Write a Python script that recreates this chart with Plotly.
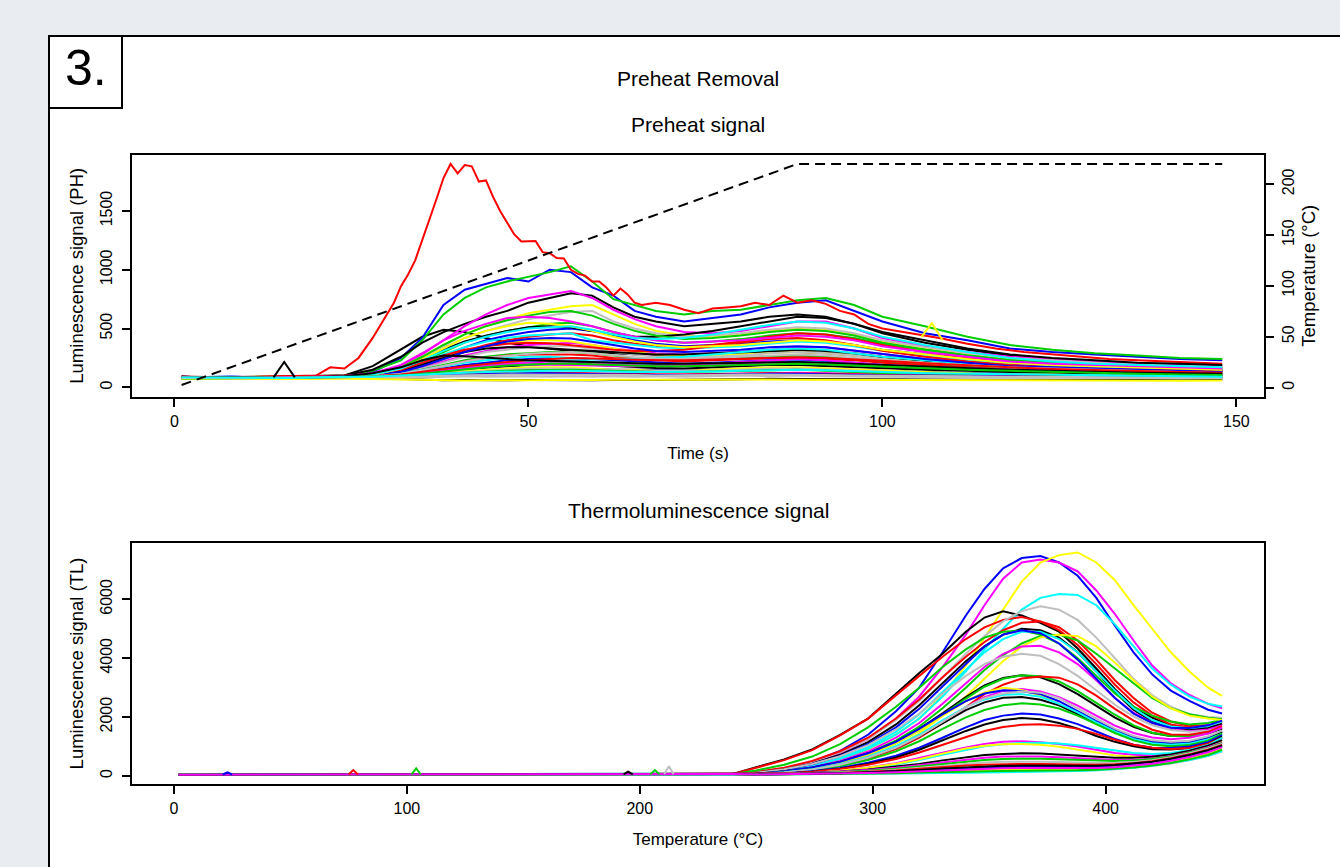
import plotly.graph_objects as go

# ---------------- colours (R default palette) ----------------
BLACK = "#000000"; RED = "#FF0000"; GREEN = "#00CD00"; BLUE = "#0000FF"
CYAN = "#00FFFF"; MAGENTA = "#FF00FF"; YELLOW = "#FFFF00"; GRAY = "#BEBEBE"

# ---------------- Preheat signal data ----------------
PH_T = [1, 8, 16, 24, 28, 32, 35, 38, 41, 44, 47, 50, 53, 56, 59, 62, 65, 68, 72, 76,
        80, 84, 88, 92, 96, 100, 106, 112, 118, 124, 130, 136, 142, 148]

PH_CURVES = [
    [80, 85, 80, 85, 85, 95, 105, 115, 130, 140, 150, 155, 160, 160, 155, 150, 150, 145, 145, 150, 155, 160, 160, 155, 150, 140, 130, 120, 115, 110, 105, 100, 95, 95],
    [85, 80, 85, 80, 90, 90, 95, 100, 105, 110, 115, 120, 120, 120, 115, 115, 115, 110, 110, 115, 120, 125, 125, 120, 115, 110, 105, 100, 95, 95, 90, 90, 85, 85],
    [90, 80, 85, 100, 180, 320, 430, 490, 470, 420, 380, 350, 330, 310, 300, 290, 280, 270, 270, 280, 290, 300, 300, 290, 270, 250, 220, 200, 180, 170, 160, 150, 140, 140],
    [90, 80, 85, 95, 130, 250, 420, 700, 830, 880, 930, 900, 1000, 980, 850, 780, 650, 600, 560, 590, 620, 680, 720, 740, 650, 560, 460, 400, 330, 300, 280, 260, 240, 230],
    [80, 85, 90, 100, 140, 230, 400, 620, 760, 850, 900, 940, 980, 1030, 900, 750, 700, 650, 620, 650, 660, 700, 740, 760, 700, 600, 520, 430, 360, 320, 290, 270, 250, 240],
    [85, 80, 90, 100, 150, 260, 380, 470, 540, 600, 650, 720, 760, 800, 780, 680, 600, 560, 520, 540, 560, 600, 620, 600, 540, 460, 380, 320, 270, 240, 220, 200, 190, 180],
    [80, 90, 85, 95, 120, 180, 280, 400, 520, 620, 700, 760, 790, 820, 760, 660, 580, 520, 470, 460, 480, 520, 560, 560, 500, 420, 350, 300, 260, 240, 220, 200, 190, 180],
    [70, 80, 75, 90, 110, 170, 260, 360, 450, 520, 580, 630, 660, 690, 700, 620, 540, 480, 440, 430, 450, 480, 500, 490, 450, 390, 330, 280, 240, 220, 200, 190, 180, 170],
    [80, 85, 80, 95, 120, 170, 250, 340, 420, 480, 530, 580, 610, 640, 650, 560, 500, 460, 430, 440, 460, 490, 510, 500, 460, 400, 340, 290, 250, 230, 210, 190, 180, 170],
    [80, 75, 80, 95, 110, 150, 220, 300, 380, 440, 480, 510, 540, 550, 520, 470, 430, 400, 380, 390, 410, 440, 460, 450, 420, 370, 320, 270, 230, 210, 190, 180, 170, 160],
    [85, 90, 80, 90, 105, 140, 200, 270, 340, 400, 440, 470, 490, 500, 480, 440, 400, 370, 350, 360, 370, 390, 400, 390, 360, 320, 280, 240, 210, 190, 180, 170, 160, 150],
    [80, 85, 90, 100, 110, 140, 190, 250, 310, 360, 400, 430, 450, 460, 440, 400, 370, 350, 340, 360, 390, 430, 460, 450, 410, 360, 300, 250, 220, 200, 180, 170, 160, 150],
    [90, 85, 80, 95, 110, 150, 210, 280, 340, 390, 420, 440, 450, 460, 400, 380, 360, 340, 330, 340, 350, 370, 390, 380, 350, 310, 270, 230, 200, 180, 170, 160, 150, 140],
    [80, 80, 85, 90, 100, 130, 170, 220, 270, 310, 340, 360, 370, 380, 360, 330, 310, 290, 280, 290, 300, 320, 340, 340, 310, 280, 240, 210, 190, 170, 160, 150, 140, 140],
    [70, 75, 80, 85, 95, 130, 180, 240, 300, 350, 380, 400, 400, 390, 360, 330, 300, 280, 270, 270, 280, 290, 300, 290, 270, 240, 210, 190, 170, 160, 150, 140, 130, 130],
    [80, 80, 85, 90, 100, 120, 160, 210, 260, 300, 320, 340, 350, 350, 330, 300, 280, 260, 250, 260, 270, 290, 300, 290, 270, 240, 210, 190, 170, 160, 150, 140, 130, 130],
    [85, 80, 90, 95, 110, 140, 190, 250, 300, 330, 340, 340, 330, 320, 310, 300, 290, 280, 280, 290, 300, 310, 320, 310, 290, 260, 230, 200, 180, 170, 160, 150, 140, 140],
    [75, 80, 80, 90, 100, 120, 150, 190, 230, 260, 280, 290, 300, 300, 290, 270, 250, 240, 230, 240, 250, 260, 270, 260, 240, 220, 200, 180, 160, 150, 140, 130, 130, 120],
    [90, 85, 90, 95, 105, 120, 150, 180, 220, 250, 270, 280, 280, 280, 270, 250, 240, 230, 220, 230, 240, 250, 250, 240, 230, 210, 190, 170, 150, 140, 130, 120, 120, 110],
    [80, 85, 80, 90, 95, 110, 130, 160, 190, 210, 230, 240, 250, 250, 240, 230, 220, 210, 200, 210, 220, 230, 230, 220, 210, 190, 170, 160, 150, 140, 130, 120, 110, 110],
    [85, 80, 85, 90, 100, 110, 130, 150, 170, 190, 210, 220, 230, 230, 220, 210, 200, 190, 190, 200, 210, 220, 220, 210, 200, 180, 160, 150, 140, 130, 120, 110, 110, 100],
    [75, 80, 85, 90, 95, 105, 120, 140, 160, 180, 200, 210, 220, 220, 210, 200, 190, 180, 180, 190, 200, 210, 210, 200, 190, 170, 160, 150, 140, 130, 120, 110, 110, 100],
    [80, 75, 80, 85, 90, 100, 115, 135, 155, 170, 180, 190, 200, 200, 190, 180, 170, 165, 160, 170, 180, 190, 190, 180, 170, 160, 150, 140, 130, 120, 110, 110, 100, 100],
    [70, 75, 70, 80, 85, 95, 110, 125, 140, 150, 160, 170, 170, 170, 160, 150, 150, 140, 140, 150, 160, 170, 170, 160, 150, 140, 130, 120, 110, 110, 100, 100, 90, 90],
    [75, 80, 80, 85, 90, 95, 110, 120, 130, 140, 150, 160, 160, 160, 150, 150, 140, 140, 140, 140, 150, 160, 160, 150, 140, 130, 120, 110, 110, 100, 100, 90, 90, 90],
    [80, 75, 80, 85, 90, 95, 105, 115, 125, 135, 140, 145, 150, 150, 145, 140, 135, 130, 130, 135, 140, 150, 150, 140, 130, 120, 115, 110, 105, 100, 95, 90, 90, 90],
    [90, 80, 85, 90, 95, 100, 105, 110, 120, 125, 130, 130, 125, 120, 120, 115, 115, 110, 110, 110, 115, 120, 120, 115, 110, 105, 100, 100, 95, 90, 90, 85, 85, 80],
    [85, 90, 80, 85, 90, 95, 100, 105, 110, 115, 120, 120, 120, 115, 115, 110, 110, 105, 105, 110, 110, 115, 115, 110, 105, 100, 100, 95, 90, 90, 85, 85, 80, 80],
    [80, 75, 80, 85, 80, 70, 65, 60, 62, 58, 60, 62, 60, 58, 60, 62, 65, 63, 65, 68, 70, 72, 70, 68, 70, 68, 66, 65, 64, 62, 63, 62, 60, 62],
    [75, 80, 75, 80, 85, 80, 85, 90, 95, 90, 95, 95, 90, 95, 90, 95, 90, 95, 90, 95, 100, 95, 100, 95, 90, 90, 85, 85, 80, 85, 80, 80, 75, 80],
    [70, 72, 70, 72, 70, 65, 62, 60, 58, 60, 58, 60, 62, 60, 62, 64, 62, 65, 64, 66, 68, 66, 65, 64, 63, 62, 60, 60, 58, 60, 58, 58, 57, 58],
    [80, 85, 80, 90, 95, 110, 125, 145, 165, 180, 190, 195, 195, 190, 185, 180, 180, 185, 190, 200, 215, 230, 240, 230, 210, 190, 170, 160, 150, 140, 130, 125, 120, 115],
    [85, 80, 85, 90, 100, 120, 150, 180, 210, 230, 250, 260, 260, 250, 240, 240, 240, 250, 260, 280, 300, 320, 330, 320, 290, 260, 230, 200, 180, 170, 160, 150, 140, 140],
    [90, 80, 85, 95, 120, 170, 240, 320, 390, 440, 480, 510, 520, 510, 480, 450, 430, 430, 450, 480, 520, 560, 600, 590, 540, 470, 400, 330, 280, 250, 230, 210, 200, 190],
    [85, 80, 90, 95, 110, 150, 210, 270, 320, 350, 370, 380, 375, 360, 340, 320, 310, 310, 320, 350, 380, 410, 420, 400, 360, 310, 260, 220, 190, 170, 160, 150, 140, 135],
    [80, 85, 80, 90, 115, 170, 260, 360, 450, 520, 570, 610, 640, 650, 610, 540, 480, 440, 410, 420, 440, 470, 490, 480, 440, 380, 320, 270, 230, 210, 190, 180, 170, 160],
    [90, 80, 85, 90, 100, 130, 180, 240, 300, 350, 390, 410, 420, 415, 390, 360, 330, 310, 300, 310, 320, 340, 350, 340, 310, 280, 240, 210, 180, 170, 160, 150, 140, 130],
    [70, 75, 80, 85, 105, 160, 240, 330, 420, 480, 520, 550, 540, 520, 480, 430, 390, 360, 340, 350, 360, 380, 400, 390, 360, 320, 280, 240, 210, 190, 180, 170, 160, 150],
    [85, 80, 85, 95, 120, 190, 290, 400, 480, 540, 590, 600, 590, 560, 520, 470, 430, 400, 380, 390, 400, 420, 440, 430, 400, 350, 300, 260, 220, 200, 190, 180, 170, 160],
    [80, 75, 80, 85, 95, 115, 145, 185, 220, 250, 270, 285, 295, 300, 290, 270, 255, 245, 240, 250, 260, 270, 280, 270, 250, 230, 210, 190, 170, 160, 150, 140, 130, 120],
    [85, 90, 80, 90, 110, 160, 230, 310, 380, 430, 470, 500, 510, 520, 490, 450, 420, 410, 420, 450, 490, 530, 560, 550, 500, 430, 360, 300, 250, 220, 200, 190, 180, 170],
    [90, 85, 80, 90, 95, 110, 130, 155, 180, 200, 215, 230, 240, 250, 245, 240, 235, 230, 230, 235, 240, 250, 255, 250, 240, 225, 205, 185, 170, 155, 145, 135, 130, 125],
    [80, 85, 80, 95, 120, 170, 230, 270, 265, 250, 240, 230, 225, 220, 215, 210, 205, 200, 200, 205, 210, 215, 215, 210, 200, 190, 175, 160, 150, 140, 130, 125, 120, 115],
    [75, 80, 80, 85, 90, 100, 115, 135, 155, 170, 185, 195, 200, 200, 195, 190, 185, 180, 180, 185, 190, 195, 200, 195, 185, 175, 160, 150, 140, 130, 120, 115, 110, 105],
    [80, 80, 85, 85, 90, 90, 95, 100, 100, 105, 110, 110, 110, 110, 105, 105, 105, 100, 100, 105, 110, 110, 110, 105, 100, 100, 95, 95, 90, 90, 85, 85, 80, 80],
    [85, 85, 80, 90, 90, 100, 110, 120, 125, 130, 135, 140, 140, 140, 135, 135, 130, 130, 130, 135, 140, 145, 150, 145, 140, 130, 120, 115, 110, 105, 100, 95, 95, 90],
]
PH_COLORS = [BLUE, MAGENTA, BLACK, BLUE, GREEN, BLACK, MAGENTA, YELLOW, GRAY, GREEN,
             BLUE, RED, CYAN, MAGENTA, YELLOW, GRAY, BLACK, GREEN, RED, BLUE,
             CYAN, MAGENTA, BLACK, YELLOW, GRAY, GREEN, RED, BLUE, BLACK, GRAY,
             YELLOW, MAGENTA, CYAN, BLACK, RED, GREEN, BLUE, YELLOW, MAGENTA, GRAY,
             CYAN, RED, BLACK, GREEN, GRAY, CYAN]

# the strongest preheat curve (red), read at finer time steps
PH_RED_T = [1, 5, 10, 15, 20, 22, 24, 26, 28, 30, 31, 32, 33, 34, 35, 36, 37, 38, 39, 40,
            41, 42, 43, 44, 45, 46, 47, 48, 49, 50, 51, 52, 53, 54, 55, 56, 57, 58, 59, 60,
            61, 62, 63, 64, 65, 66, 67, 68, 70, 72, 74, 76, 78, 80, 82, 84, 86, 88, 90, 92,
            94, 96, 98, 100, 104, 108, 112, 116, 120, 124, 128, 132, 136, 140, 144, 148]
PH_RED_V = [90, 80, 85, 90, 100, 170, 160, 250, 420, 620, 720, 860, 960, 1080, 1250, 1420, 1600, 1780, 1900, 1820,
            1890, 1880, 1750, 1760, 1620, 1500, 1400, 1300, 1240, 1240, 1245, 1150, 1140, 1100, 1095, 1000, 965, 950, 900, 900,
            850, 780, 840, 790, 720, 700, 710, 720, 700, 660, 630, 670, 680, 690, 720, 700, 780, 720, 740, 710,
            650, 620, 540, 500, 460, 420, 370, 330, 300, 280, 260, 240, 230, 220, 210, 200]

# short single-channel spikes
PH_SPIKE_T = [[14, 15.5, 17], [105.5, 107, 108.5]]
PH_SPIKE_V = [[85, 215, 85], [430, 545, 400]]
PH_SPIKE_COLORS = [BLACK, YELLOW]

# heating profile
HEAT_T = [1, 88, 148]
HEAT_TEMP = [2.5, 220, 220]

# ---------------- TL signal data ----------------
TL_BASE_T = [2, 40, 80, 120, 160, 200, 230, 240]
TL_BASE_V = [45, 50, 48, 52, 50, 55, 60, 65]

TL_T = [250, 262, 274, 286, 298, 310, 320, 330, 340, 348, 356, 364, 372, 380, 388, 396,
        404, 412, 420, 428, 436, 444, 450]

TL_CURVES = [
    [120, 250, 480, 850, 1400, 2200, 3000, 4200, 5450, 6350, 7050, 7400, 7470, 7250, 6800, 6050, 5100, 4200, 3450, 2900, 2550, 2250, 2120],
    [110, 230, 440, 780, 1250, 1950, 2700, 3700, 4800, 5800, 6700, 7250, 7350, 7250, 6950, 6300, 5500, 4600, 3750, 3150, 2750, 2450, 2300],
    [80, 160, 320, 560, 900, 1400, 1950, 2750, 3750, 4700, 5650, 6600, 7250, 7500, 7590, 7250, 6650, 5800, 5000, 4200, 3550, 3000, 2720],
    [80, 170, 330, 570, 920, 1400, 1950, 2700, 3550, 4300, 5000, 5650, 6050, 6180, 6150, 5800, 5150, 4400, 3650, 3100, 2700, 2450, 2360],
    [300, 560, 900, 1400, 1950, 2800, 3500, 4150, 4900, 5380, 5590, 5450, 5200, 4900, 4330, 3650, 2950, 2350, 1980, 1700, 1600, 1680, 1770],
    [280, 540, 880, 1380, 1950, 2750, 3400, 4050, 4650, 5050, 5300, 5400, 5250, 4950, 4450, 3800, 3100, 2500, 2050, 1750, 1650, 1700, 1850],
    [130, 260, 480, 800, 1250, 1900, 2550, 3350, 4150, 4750, 5250, 5600, 5766, 5650, 5300, 4700, 4000, 3300, 2750, 2350, 2100, 2000, 1980],
    [140, 280, 510, 840, 1300, 1950, 2600, 3350, 4050, 4550, 4950, 5200, 5250, 5050, 4600, 3950, 3250, 2650, 2150, 1850, 1700, 1720, 1850],
    [110, 230, 420, 720, 1150, 1750, 2400, 3150, 3900, 4400, 4800, 5000, 4950, 4700, 4200, 3550, 2850, 2250, 1850, 1620, 1550, 1620, 1760],
    [190, 380, 660, 1080, 1650, 2350, 3000, 3700, 4300, 4700, 4900, 4940, 4800, 4500, 4000, 3400, 2800, 2350, 2050, 1850, 1750, 1800, 1900],
    [70, 150, 280, 480, 780, 1200, 1680, 2300, 3000, 3600, 4100, 4500, 4750, 4800, 4600, 4150, 3650, 3150, 2650, 2300, 2100, 1980, 1930],
    [55, 110, 210, 370, 640, 1000, 1450, 2050, 2700, 3300, 3900, 4400, 4700, 4800, 4750, 4400, 3850, 3250, 2700, 2300, 2050, 1950, 1900],
    [75, 160, 300, 510, 830, 1300, 1800, 2450, 3150, 3700, 4150, 4400, 4420, 4200, 3800, 3250, 2650, 2150, 1800, 1600, 1520, 1580, 1720],
    [85, 190, 360, 610, 980, 1500, 2100, 2850, 3600, 4200, 4650, 4900, 4900, 4650, 4200, 3550, 2900, 2300, 1900, 1680, 1620, 1700, 1850],
    [95, 210, 400, 680, 1080, 1650, 2280, 3050, 3800, 4400, 4800, 4950, 4850, 4500, 3950, 3300, 2650, 2120, 1800, 1640, 1630, 1720, 1880],
    [110, 230, 410, 670, 1050, 1580, 2120, 2800, 3400, 3800, 4050, 4150, 4080, 3800, 3400, 2900, 2420, 2020, 1720, 1560, 1500, 1540, 1640],
    [75, 160, 290, 480, 770, 1160, 1600, 2130, 2680, 3080, 3330, 3420, 3350, 3120, 2780, 2380, 1980, 1670, 1460, 1360, 1360, 1450, 1600],
    [65, 140, 260, 440, 720, 1110, 1550, 2080, 2630, 3030, 3300, 3420, 3390, 3210, 2880, 2480, 2080, 1720, 1470, 1360, 1360, 1450, 1640],
    [55, 115, 210, 360, 590, 910, 1300, 1790, 2330, 2780, 3100, 3310, 3380, 3340, 3110, 2730, 2280, 1880, 1570, 1410, 1400, 1500, 1690],
    [65, 135, 240, 400, 650, 960, 1350, 1840, 2330, 2680, 2890, 2950, 2870, 2680, 2390, 2050, 1710, 1460, 1310, 1250, 1300, 1440, 1640],
    [65, 145, 270, 460, 730, 1110, 1550, 2040, 2540, 2840, 3000, 2920, 2730, 2440, 2100, 1760, 1470, 1270, 1160, 1110, 1150, 1290, 1480],
    [75, 155, 290, 480, 770, 1160, 1600, 2090, 2540, 2800, 2910, 2880, 2780, 2540, 2200, 1860, 1560, 1310, 1160, 1110, 1150, 1300, 1540],
    [60, 125, 230, 380, 620, 960, 1350, 1790, 2240, 2500, 2660, 2680, 2590, 2400, 2110, 1810, 1510, 1260, 1110, 1060, 1100, 1250, 1490],
    [60, 125, 230, 400, 650, 1010, 1400, 1890, 2340, 2600, 2760, 2780, 2690, 2450, 2160, 1820, 1510, 1260, 1110, 1060, 1100, 1250, 1440],
    [55, 105, 190, 330, 540, 840, 1180, 1600, 1990, 2240, 2400, 2470, 2430, 2290, 2050, 1760, 1460, 1210, 1060, 1010, 1050, 1200, 1440],
    [60, 115, 220, 380, 620, 960, 1350, 1840, 2330, 2640, 2800, 2870, 2830, 2640, 2300, 1960, 1610, 1360, 1210, 1160, 1200, 1350, 1540],
    [55, 85, 160, 275, 450, 690, 960, 1300, 1650, 1900, 2050, 2120, 2090, 1950, 1760, 1510, 1260, 1060, 960, 950, 1000, 1150, 1390],
    [55, 78, 145, 250, 410, 630, 890, 1210, 1530, 1750, 1900, 1970, 1930, 1800, 1610, 1360, 1160, 1010, 910, 900, 950, 1100, 1340],
    [55, 76, 145, 240, 385, 580, 800, 1060, 1340, 1530, 1660, 1740, 1760, 1710, 1600, 1430, 1230, 1060, 960, 920, 950, 1100, 1290],
    [50, 65, 105, 180, 290, 435, 600, 790, 970, 1090, 1160, 1180, 1150, 1090, 1000, 880, 780, 720, 700, 720, 800, 950, 1140],
    [50, 62, 95, 160, 260, 390, 540, 720, 890, 1010, 1080, 1120, 1130, 1100, 1040, 950, 850, 780, 750, 780, 880, 1050, 1290],
    [50, 65, 105, 175, 280, 415, 570, 760, 930, 1030, 1080, 1090, 1060, 990, 900, 800, 700, 650, 640, 680, 780, 950, 1150],
    [60, 80, 110, 150, 220, 310, 410, 530, 640, 710, 750, 770, 760, 730, 690, 650, 620, 620, 650, 730, 860, 1030, 1220],
    [58, 75, 100, 140, 200, 280, 370, 470, 560, 620, 660, 675, 665, 635, 600, 560, 540, 550, 590, 680, 810, 980, 1130],
    [55, 70, 92, 125, 175, 245, 325, 415, 495, 545, 580, 590, 585, 565, 540, 515, 505, 525, 575, 665, 795, 955, 1110],
    [55, 68, 86, 115, 155, 215, 280, 355, 420, 460, 485, 493, 487, 472, 455, 445, 450, 475, 535, 635, 775, 935, 1090],
    [54, 64, 80, 105, 140, 190, 245, 305, 355, 385, 403, 407, 403, 393, 385, 385, 400, 435, 505, 605, 735, 895, 1050],
    [52, 60, 72, 90, 118, 155, 195, 240, 275, 297, 307, 310, 308, 305, 307, 320, 345, 395, 465, 565, 695, 855, 1010],
    [50, 56, 64, 76, 95, 120, 145, 170, 190, 203, 210, 213, 215, 220, 230, 250, 285, 335, 405, 495, 615, 755, 910],
    [48, 52, 56, 62, 72, 84, 96, 108, 118, 126, 132, 138, 146, 156, 171, 194, 226, 271, 336, 426, 536, 676, 830],
    [48, 52, 55, 60, 68, 78, 88, 98, 108, 116, 124, 132, 142, 154, 171, 196, 231, 281, 346, 436, 546, 686, 850],
    [50, 55, 60, 68, 80, 97, 115, 135, 153, 165, 173, 177, 180, 185, 195, 215, 245, 290, 355, 445, 565, 715, 890],
    [52, 60, 73, 91, 120, 160, 205, 255, 300, 330, 347, 353, 350, 343, 340, 347, 370, 415, 485, 585, 715, 875, 1040],
    [50, 57, 66, 80, 101, 130, 163, 200, 233, 255, 267, 271, 269, 265, 265, 275, 300, 345, 415, 515, 645, 805, 980],
]
TL_COLORS = [BLUE, MAGENTA, YELLOW, CYAN, BLACK, RED, GRAY, RED, BLACK, GREEN,
             GREEN, YELLOW, MAGENTA, CYAN, BLUE, GRAY, BLACK, GREEN, RED, MAGENTA,
             YELLOW, BLUE, BLACK, CYAN, GREEN, GRAY, BLUE, BLACK, RED, MAGENTA,
             CYAN, YELLOW, BLACK, MAGENTA, GREEN, GRAY, RED, BLUE, YELLOW, GRAY,
             CYAN, GREEN, BLACK, MAGENTA]

TL_SPIKE_T = [[21, 23, 25], [75, 77, 79], [102, 104, 106], [193, 195, 197], [204.5, 206.5, 208.5], [210.5, 212.5, 214.5]]
TL_SPIKE_V = [[50, 120, 50], [50, 200, 50], [52, 260, 50], [55, 150, 55], [55, 200, 55], [55, 330, 55]]
TL_SPIKE_COLORS = [BLUE, RED, GREEN, BLACK, GREEN, GRAY]

# ---------------- layout helpers ----------------
W, H = 1340, 867
FONT = "Liberation Sans, Arial, Helvetica, sans-serif"
BG = "#E9EDF2"


def fx(px):
    return px / W


def fy(py):
    return 1 - py / H


fig = go.Figure()

LW = 2
# preheat curves
for vals, col in zip(PH_CURVES[:20], PH_COLORS[:20]):
    fig.add_trace(go.Scatter(x=PH_T, y=vals, mode="lines", line=dict(color=col, width=LW),
                             xaxis="x", yaxis="y", showlegend=False, hoverinfo="skip"))
fig.add_trace(go.Scatter(x=PH_RED_T, y=PH_RED_V, mode="lines", line=dict(color=RED, width=LW),
                         xaxis="x", yaxis="y", showlegend=False, hoverinfo="skip"))
for vals, col in zip(PH_CURVES[20:], PH_COLORS[20:]):
    fig.add_trace(go.Scatter(x=PH_T, y=vals, mode="lines", line=dict(color=col, width=LW),
                             xaxis="x", yaxis="y", showlegend=False, hoverinfo="skip"))
for ts, vs, col in zip(PH_SPIKE_T, PH_SPIKE_V, PH_SPIKE_COLORS):
    fig.add_trace(go.Scatter(x=ts, y=vs, mode="lines", line=dict(color=col, width=LW),
                             xaxis="x", yaxis="y", showlegend=False, hoverinfo="skip"))
# heating profile (right axis)
fig.add_trace(go.Scatter(x=HEAT_T, y=HEAT_TEMP, mode="lines",
                         line=dict(color=BLACK, width=2, dash="10px,6px"),
                         xaxis="x", yaxis="y3", showlegend=False, hoverinfo="skip"))

# TL curves
for vals, col in zip(TL_CURVES, TL_COLORS):
    fig.add_trace(go.Scatter(x=TL_BASE_T + TL_T, y=TL_BASE_V + vals, mode="lines",
                             line=dict(color=col, width=LW),
                             xaxis="x2", yaxis="y2", showlegend=False, hoverinfo="skip"))
for ts, vs, col in zip(TL_SPIKE_T, TL_SPIKE_V, TL_SPIKE_COLORS):
    fig.add_trace(go.Scatter(x=ts, y=vs, mode="lines", line=dict(color=col, width=LW),
                             xaxis="x2", yaxis="y2", showlegend=False, hoverinfo="skip"))

axis_common = dict(showline=True, linecolor="black", linewidth=2, mirror=True,
                   ticks="outside", ticklen=8, tickwidth=1.5, tickcolor="black",
                   showgrid=False, zeroline=False,
                   tickfont=dict(family=FONT, size=16, color="black"))
xtitle_font = dict(family=FONT, size=17, color="black")
ytitle_font = dict(family=FONT, size=18.5, color="black")

fig.update_layout(
    width=W, height=H,
    margin=dict(l=0, r=0, t=0, b=0),
    paper_bgcolor=BG,
    plot_bgcolor="white",
    showlegend=False,
    xaxis=dict(domain=[fx(132), fx(1264)], range=[-6, 153.9], anchor="y",
               tickvals=[0, 50, 100, 150], ticklabelstandoff=1,
               title=dict(text="Time (s)", font=xtitle_font, standoff=18),
               **axis_common),
    yaxis=dict(domain=[fy(396.5), fy(155)], range=[-78, 1976], anchor="x",
               tickvals=[0, 500, 1000, 1500], tickangle=-90, ticklabelstandoff=4,
               title=dict(text="Luminescence signal (PH)", font=ytitle_font, standoff=9),
               **axis_common),
    yaxis3=dict(overlaying="y", side="right", anchor="x", range=[-8.8, 228.8],
                tickvals=[0, 50, 100, 150, 200], tickangle=-90, ticklabelstandoff=1,
                title=dict(text="Temperature (°C)", font=ytitle_font, standoff=6),
                **axis_common),
    xaxis2=dict(domain=[fx(132), fx(1264)], range=[-18, 468], anchor="y2",
                tickvals=[0, 100, 200, 300, 400], ticklabelstandoff=1,
                title=dict(text="Temperature (°C)", font=xtitle_font, standoff=17),
                **axis_common),
    yaxis2=dict(domain=[fy(784), fy(543)], range=[-272, 7912], anchor="x2",
                tickvals=[0, 2000, 4000, 6000], tickangle=-90, ticklabelstandoff=4,
                title=dict(text="Luminescence signal (TL)", font=ytitle_font, standoff=9),
                **axis_common),
    shapes=[
        dict(type="rect", xref="paper", yref="paper", x0=fx(49), x1=1.2, y0=-0.2, y1=fy(36),
             line=dict(color="black", width=2), fillcolor="white", layer="below"),
        dict(type="rect", xref="paper", yref="paper", x0=fx(49), x1=fx(122), y0=fy(108), y1=fy(36),
             line=dict(color="black", width=2), fillcolor="white", layer="below"),
    ],
    annotations=[
        dict(text="3.", x=fx(86), y=fy(68), xref="paper", yref="paper", showarrow=False,
             xanchor="center", yanchor="middle", font=dict(family=FONT, size=50, color="black")),
        dict(text="Preheat Removal", x=fx(698), y=fy(78), xref="paper", yref="paper", showarrow=False,
             xanchor="center", yanchor="middle", font=dict(family=FONT, size=21, color="black")),
        dict(text="Preheat signal", x=fx(698), y=fy(124), xref="paper", yref="paper", showarrow=False,
             xanchor="center", yanchor="middle", font=dict(family=FONT, size=21, color="black")),
        dict(text="Thermoluminescence signal", x=fx(698), y=fy(511), xref="paper", yref="paper",
             showarrow=False, xanchor="center", yanchor="middle",
             font=dict(family=FONT, size=21, color="black")),
    ],
)

fig.write_html(
    "out.html",
    config={"displayModeBar": False},
    post_script="document.body.style.margin='0px';document.body.style.background='" + BG + "';",
)
